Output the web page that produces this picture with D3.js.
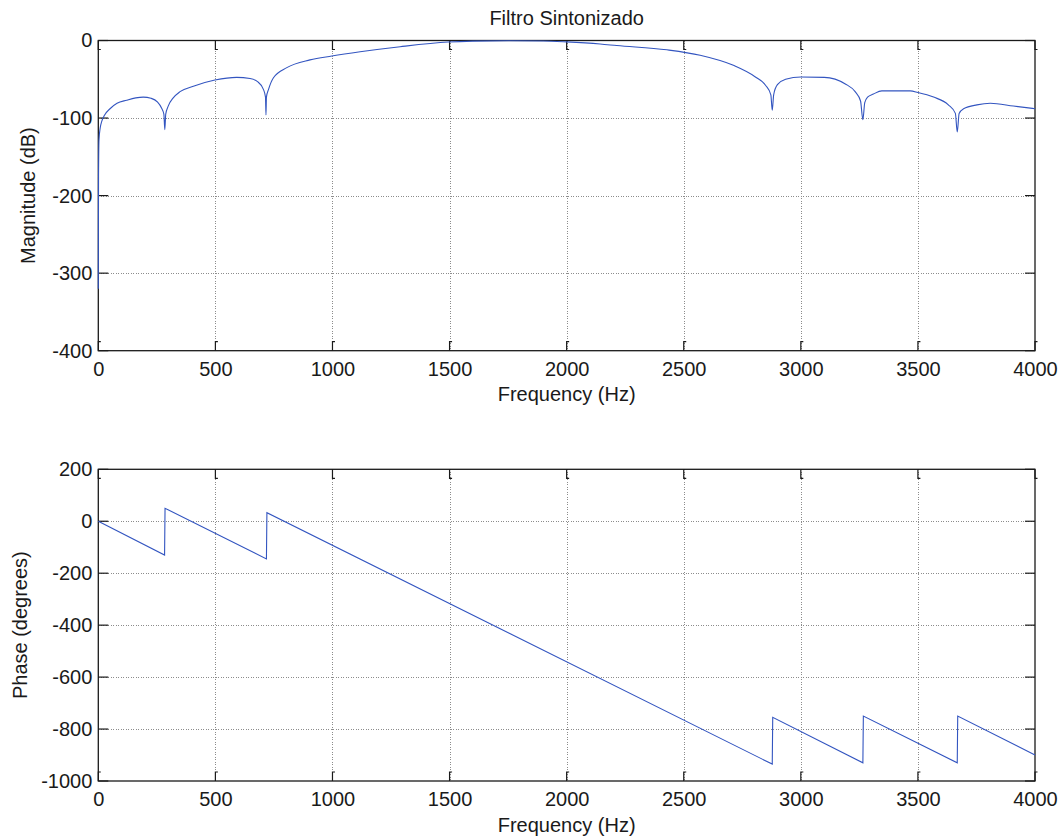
<!DOCTYPE html>
<html>
<head>
<meta charset="utf-8">
<script src="https://cdn.jsdelivr.net/npm/d3@7"></script>
<style>
  html, body { margin: 0; padding: 0; background: #fff; }
  svg { display: block; }
  text { font-family: "Liberation Sans", Arial, Helvetica, sans-serif; fill: #1a1a1a; }
</style>
</head>
<body>
<svg id="chart" width="1063" height="839"></svg>
<script>
// Frequency response of the tuned FIR filter (fs = 8 kHz)
const freqTicks = [0, 500, 1000, 1500, 2000, 2500, 3000, 3500, 4000];
const magTicks = [-400, -300, -200, -100, 0];
const phaseTicks = [-1000, -800, -600, -400, -200, 0, 200];

// Magnitude response (Hz, dB)
const magFreq = [0, 1, 3, 8, 15, 25, 50, 80, 121, 160, 192, 225, 252, 270, 280, 284, 288, 298, 320, 349,
  406, 498, 591, 648, 680, 705, 714, 716, 718, 727, 748, 805, 904, 997, 1118, 1289, 1494, 1600, 1750, 1900,
  2000, 2143, 2214, 2428, 2570, 2712, 2806, 2850, 2872, 2878, 2884, 2900, 2935, 3000, 3100, 3190, 3232,
  3255, 3265, 3273, 3285, 3310, 3346, 3467, 3500, 3567, 3630, 3660, 3668, 3676, 3695, 3752, 3809, 3908, 4000];
const magDb = [-320, -175, -128, -113, -104, -97, -88, -81, -77, -74, -73, -74.5, -79, -87, -95, -115, -95, -85, -74, -66,
  -59, -51, -47.5, -49, -53, -63, -73, -96, -73, -63, -48, -35, -25, -20, -14.5, -8, -2, -0.8, -0.3, -0.6,
  -1.8, -4.5, -6.5, -12, -19, -32, -47, -58, -70, -90, -70, -57, -50, -47, -47.5, -56, -66,
  -78, -102, -80, -73, -69, -65, -65, -67, -73, -83, -94, -118, -94, -88, -83, -81, -84.5, -88];

// Phase response (Hz, degrees)
const phaseFreq = [0, 283, 285, 718, 720, 2878, 2880, 3265, 3267, 3668, 3670, 4000];
const phaseDeg = [0, -130, 50, -145, 33, -935, -755, -930, -750, -930, -750, -900];

const svg = d3.select("#chart");
svg.append("rect").attr("width", 1063).attr("height", 839).attr("fill", "#fff");

const left = 98.3, right = 1035;
const lineColor = "#3355c0";

function panel(opts) {
  const x = d3.scaleLinear().domain([0, 4000]).range([left, right]);
  const y = d3.scaleLinear().domain(opts.yDomain).range([opts.bottom, opts.top]);
  const g = svg.append("g");

  // dotted grid
  const grid = g.append("g").attr("stroke", "#8c8c8c").attr("stroke-width", 1)
    .attr("stroke-dasharray", "1,1.5").attr("shape-rendering", "crispEdges");
  freqTicks.slice(1, -1).forEach(t => {
    grid.append("line").attr("x1", Math.round(x(t)) + 0.5).attr("x2", Math.round(x(t)) + 0.5)
      .attr("y1", opts.top).attr("y2", opts.bottom);
  });
  opts.yTicks.slice(1, -1).forEach(t => {
    grid.append("line").attr("y1", Math.round(y(t)) + 0.5).attr("y2", Math.round(y(t)) + 0.5)
      .attr("x1", left).attr("x2", right);
  });

  // box
  g.append("rect").attr("x", left).attr("y", opts.top)
    .attr("width", right - left).attr("height", opts.bottom - opts.top)
    .attr("fill", "none").attr("stroke", "#1a1a1a").attr("stroke-width", 1.3);

  // inward ticks on all four sides
  const tk = g.append("g").attr("stroke", "#1a1a1a").attr("stroke-width", 1.2).attr("fill", "none");
  freqTicks.forEach(t => {
    const px = x(t);
    tk.append("path").attr("d", `M${px},${opts.bottom} v-9 h2.5`);
    tk.append("path").attr("d", `M${px},${opts.top} v9 h2.5`);
  });
  opts.yTicks.forEach(t => {
    const py = y(t);
    tk.append("path").attr("d", `M${left},${py} h10`);
    tk.append("path").attr("d", `M${right},${py} h-10`);
  });

  // data line, drawn over the frame
  const line = d3.line().x(d => x(d[0])).y(d => y(d[1])).curve(opts.curve);
  g.append("path").datum(opts.xs.map((f, i) => [f, opts.ys[i]]))
    .attr("d", line).attr("fill", "none").attr("stroke", lineColor).attr("stroke-width", 1.1);

  // tick labels
  const xAxis = g.append("g").attr("transform", `translate(0,${opts.bottom})`)
    .call(d3.axisBottom(x).tickValues(freqTicks).tickSize(0).tickPadding(11).tickFormat(d3.format("d")));
  const yAxis = g.append("g").attr("transform", `translate(${left},0)`)
    .call(d3.axisLeft(y).tickValues(opts.yTicks).tickSize(0).tickPadding(6).tickFormat(d3.format("d")));
  [xAxis, yAxis].forEach(a => {
    a.select(".domain").remove();
    a.selectAll("text").attr("font-size", 20).attr("font-family", "Liberation Sans, Arial, sans-serif")
      .attr("fill", "#1a1a1a");
  });
  yAxis.selectAll("text").text(d => d < 0 ? "-" + Math.abs(d) : d);

  g.append("text").attr("x", (left + right) / 2).attr("y", opts.bottom + 50.5)
    .attr("text-anchor", "middle").attr("font-size", 20).text("Frequency (Hz)");
  g.append("text")
    .attr("transform", `translate(${opts.ylabelX},${(opts.top + opts.bottom) / 2}) rotate(-90)`)
    .attr("text-anchor", "middle").attr("font-size", 20).text(opts.ylabel);
}

panel({
  top: 40.5, bottom: 350.7, yDomain: [-400, 0], yTicks: magTicks,
  xs: magFreq, ys: magDb, curve: d3.curveMonotoneX,
  ylabel: "Magnitude (dB)", ylabelX: 35
});
panel({
  top: 469.3, bottom: 781, yDomain: [-1000, 200], yTicks: phaseTicks,
  xs: phaseFreq, ys: phaseDeg, curve: d3.curveLinear,
  ylabel: "Phase (degrees)", ylabelX: 27
});

svg.append("text").attr("x", (left + right) / 2).attr("y", 25)
  .attr("text-anchor", "middle").attr("font-size", 20).text("Filtro Sintonizado");
</script>
</body>
</html>
